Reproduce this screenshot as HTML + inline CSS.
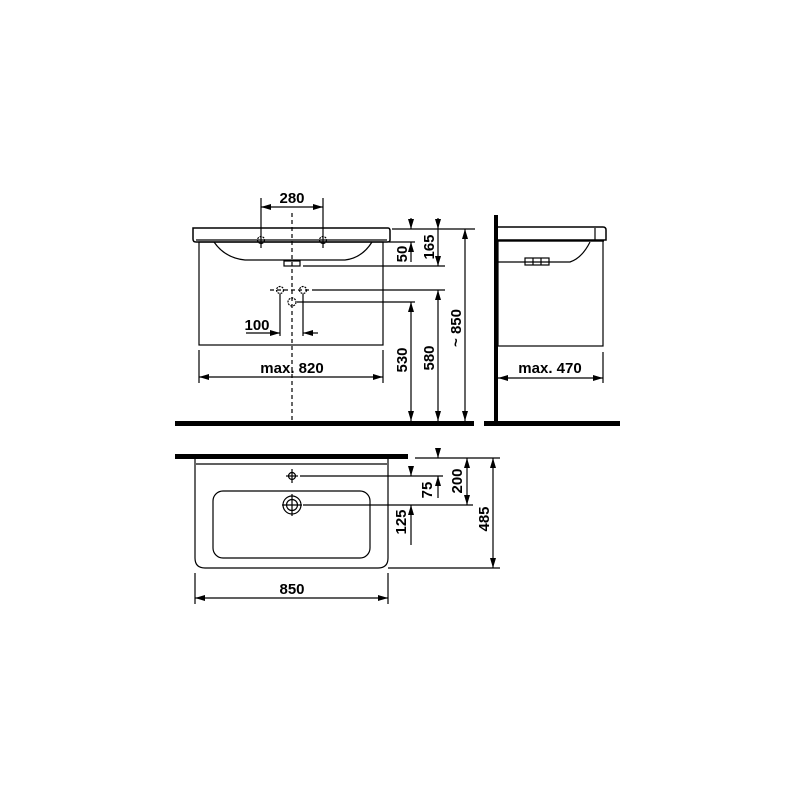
<!DOCTYPE html>
<html><head><meta charset="utf-8"><style>html,body{margin:0;padding:0;background:#fff}svg{display:block}</style></head>
<body>
<svg width="800" height="800" viewBox="0 0 800 800" xmlns="http://www.w3.org/2000/svg" font-family="Liberation Sans, sans-serif" font-weight="bold" font-size="15">
<defs>
<marker id="a" viewBox="0 0 10 6" refX="10" refY="3" markerWidth="10" markerHeight="6" orient="auto-start-reverse" markerUnits="userSpaceOnUse"><path d="M0,0 L10,3 L0,6 z" fill="#000"/></marker>
</defs>
<g stroke="#000" fill="none" stroke-width="1.2">
<path d="M193,228 H388 Q390,228 390,231 V240 Q390,242 387,242 H196 Q193,242 193,239 Z" stroke-width="1.5"/>
<line x1="196" y1="240" x2="387" y2="240"/>
<path d="M214,242 Q225,258 245,260 H345 Q362,258 372,242"/>
<rect x="199" y="242" width="184" height="103"/>
<rect x="284" y="261" width="16" height="5"/>
<line x1="292" y1="213" x2="292" y2="421" stroke-dasharray="4,3"/>
<line x1="261" y1="198" x2="261" y2="248"/><line x1="323" y1="198" x2="323" y2="248"/>
<line x1="261" y1="207" x2="323" y2="207" marker-start="url(#a)" marker-end="url(#a)"/>
<circle cx="261" cy="240" r="3.5" stroke-dasharray="2,1"/><circle cx="323" cy="240" r="3.5" stroke-dasharray="2,1"/>
<line x1="270" y1="290" x2="315" y2="290" stroke-dasharray="4,3"/>
<circle cx="280" cy="290" r="3.5" stroke-dasharray="2,1"/><circle cx="303" cy="290" r="3.5" stroke-dasharray="2,1"/><circle cx="292" cy="302" r="4" stroke-dasharray="2,1"/>
<line x1="315" y1="290" x2="445" y2="290"/>
<line x1="297" y1="302" x2="415" y2="302"/>
<line x1="303" y1="266" x2="445" y2="266"/>
<line x1="392" y1="229" x2="475" y2="229"/>
<line x1="389" y1="242" x2="415" y2="242"/>
<line x1="280" y1="294" x2="280" y2="336"/><line x1="303" y1="294" x2="303" y2="336"/>
<line x1="246" y1="333" x2="280" y2="333" marker-end="url(#a)"/>
<line x1="318" y1="333" x2="303" y2="333" marker-end="url(#a)"/>
<line x1="199" y1="350" x2="199" y2="383"/><line x1="383" y1="350" x2="383" y2="383"/>
<line x1="199" y1="377" x2="383" y2="377" marker-start="url(#a)" marker-end="url(#a)"/>
<line x1="411" y1="218" x2="411" y2="229" marker-end="url(#a)"/>
<line x1="411" y1="262" x2="411" y2="242" marker-end="url(#a)"/>
<line x1="438" y1="218" x2="438" y2="229" marker-end="url(#a)"/>
<line x1="438" y1="229" x2="438" y2="266" marker-end="url(#a)"/>
<line x1="411" y1="302" x2="411" y2="421" marker-start="url(#a)" marker-end="url(#a)"/>
<line x1="438" y1="290" x2="438" y2="421" marker-start="url(#a)" marker-end="url(#a)"/>
<line x1="465" y1="229" x2="465" y2="421" marker-start="url(#a)" marker-end="url(#a)"/>
<path d="M498,227 H603 Q606,227 606,230 V240 H498" stroke-width="1.5"/>
<line x1="498" y1="241" x2="604" y2="241"/>
<line x1="595" y1="228" x2="595" y2="240"/>
<path d="M498,262 H570 Q582,258 590,242"/>
<rect x="525" y="258" width="24" height="7"/>
<line x1="533" y1="258" x2="533" y2="265"/><line x1="541" y1="258" x2="541" y2="265"/>
<rect x="498" y="241" width="105" height="105"/>
<line x1="603" y1="352" x2="603" y2="383"/>
<line x1="498" y1="378" x2="603" y2="378" marker-start="url(#a)" marker-end="url(#a)"/>
<path d="M195,459 V558 Q195,568 205,568 H378 Q388,568 388,558 V459"/>
<line x1="196" y1="464" x2="387" y2="464"/>
<rect x="213" y="491" width="157" height="67" rx="10"/>
<circle cx="292" cy="476" r="3.5"/><line x1="286" y1="476" x2="298" y2="476"/><line x1="292" y1="469" x2="292" y2="483"/>
<circle cx="292" cy="505" r="9"/><circle cx="292" cy="505" r="5.5"/>
<line x1="292" y1="494" x2="292" y2="516"/><line x1="282" y1="505" x2="302" y2="505"/>
<line x1="415" y1="458" x2="500" y2="458"/>
<line x1="300" y1="476" x2="443" y2="476"/>
<line x1="303" y1="505" x2="473" y2="505"/>
<line x1="388" y1="568" x2="500" y2="568"/>
<line x1="438" y1="448" x2="438" y2="458" marker-end="url(#a)"/>
<line x1="438" y1="498" x2="438" y2="476" marker-end="url(#a)"/>
<line x1="467" y1="458" x2="467" y2="505" marker-start="url(#a)" marker-end="url(#a)"/>
<line x1="493" y1="458" x2="493" y2="568" marker-start="url(#a)" marker-end="url(#a)"/>
<line x1="411" y1="466" x2="411" y2="476" marker-end="url(#a)"/>
<line x1="411" y1="545" x2="411" y2="505" marker-end="url(#a)"/>
<line x1="195" y1="573" x2="195" y2="604"/><line x1="388" y1="573" x2="388" y2="604"/>
<line x1="195" y1="598" x2="388" y2="598" marker-start="url(#a)" marker-end="url(#a)"/>
</g>
<rect x="175" y="421" width="299" height="5" fill="#000"/>
<rect x="484" y="421" width="136" height="5" fill="#000"/>
<rect x="494" y="215" width="4" height="208" fill="#000"/>
<rect x="175" y="454" width="233" height="5" fill="#000"/>
<g fill="#000">
<text x="292" y="203" text-anchor="middle">280</text>
<text x="257" y="330" text-anchor="middle">100</text>
<text x="292" y="373" text-anchor="middle">max. 820</text>
<text x="550" y="373" text-anchor="middle">max. 470</text>
<text x="292" y="594" text-anchor="middle">850</text>
<text transform="translate(407,254) rotate(-90)" text-anchor="middle">50</text>
<text transform="translate(434,247) rotate(-90)" text-anchor="middle">165</text>
<text transform="translate(407,360) rotate(-90)" text-anchor="middle">530</text>
<text transform="translate(434,358) rotate(-90)" text-anchor="middle">580</text>
<text transform="translate(461,328) rotate(-90)" text-anchor="middle">~ 850</text>
<text transform="translate(432,490) rotate(-90)" text-anchor="middle">75</text>
<text transform="translate(462,481) rotate(-90)" text-anchor="middle">200</text>
<text transform="translate(489,519) rotate(-90)" text-anchor="middle">485</text>
<text transform="translate(406,522) rotate(-90)" text-anchor="middle">125</text>
</g>
</svg>
</body></html>
